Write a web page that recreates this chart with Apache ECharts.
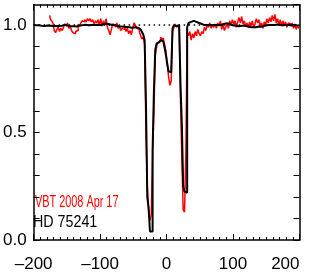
<!DOCTYPE html>
<html><head><meta charset="utf-8">
<script src="https://cdn.jsdelivr.net/npm/echarts@6/dist/echarts.min.js"></script>
<style>html,body{margin:0;padding:0;background:#fff}#c{width:311px;height:273px}</style>
</head><body><div id="c"></div>
<script>
// ---- data ----
const xTickValues = [-200, -100, 0, 100, 200];
const yTickLabels = ['0.0', '0.5', '1.0'];
const legendRed = 'VBT 2008 Apr 17';
const legendBlack = 'HD 75241';
const blackStartVel = -200, redStartVel = -176, velStep = 2;
// HD 75241 profile (black), velocity -200 .. 200 step 2
const fluxBlack = [
 1.000,1.000,0.999,0.998,0.999,0.998,0.997,0.998,0.996,0.997, // -200..-182
 0.998,0.996,0.995,0.997,0.996,0.995,0.996,0.994,0.995,0.996, // -180..-162
 0.995,0.997,0.999,1.002,1.003,1.001,0.998,0.996,0.995,0.994, // -160..-142
 0.995,0.996,0.994,0.995,0.997,0.998,0.999,1.000,1.001,1.002, // -140..-122
 1.000,0.999,1.000,1.002,1.001,1.000,1.001,1.003,1.002,1.000, // -120..-102
 0.999,1.001,1.003,1.004,1.005,1.006,1.005,1.004,1.003,1.001, // -100..-82
 1.000,0.999,0.997,0.996,0.995,0.994,0.993,0.993,0.992,0.992, // -80..-62
 0.991,0.990,0.990,0.989,0.988,0.988,0.990,0.995,0.988,0.985, // -60..-42
 0.980,0.975,0.968,0.955,0.930,0.640,0.200,0.150,0.040,0.040, // -40..-22
 0.420,0.700,0.885,0.915,0.920,0.925,0.930,0.925,0.920,0.895, // -20..-2
 0.860,0.820,0.785,0.780,0.790,0.985,1.000,0.995,1.000,1.000, // 0..18
 0.990,0.720,0.540,0.250,0.225,0.220,0.990,1.010,1.015,1.020, // 20..38
 1.020,1.018,1.015,1.012,1.010,1.008,1.005,1.003,1.002,1.000, // 40..58
 1.000,0.999,1.000,1.001,1.000,0.999,1.000,1.001,1.000,0.999, // 60..78
 1.000,1.002,1.004,1.006,1.008,1.010,1.010,1.008,1.005,1.002, // 80..98
 1.000,0.998,0.997,0.996,0.995,0.996,0.997,0.998,0.997,0.996, // 100..118
 0.995,0.993,0.992,0.991,0.990,0.990,0.991,0.990,0.991,0.992, // 120..138
 0.991,0.992,0.994,0.996,0.998,0.999,1.000,1.001,1.002,1.001, // 140..158
 1.000,1.001,1.002,1.003,1.002,1.001,1.000,0.999,1.000,1.001, // 160..178
 1.002,1.001,1.000,0.999,1.000,1.002,1.001,1.000,0.999,1.000, // 180..198
 0.998                                                        // 200
];
// VBT 2008 Apr 17 profile (red), velocity -176 .. 200 step 2
const fluxRed = [
 1.045,1.030,1.020,1.010,0.975,0.965,0.980,0.990,0.970,0.985, // -176..-158
 0.975,0.990,1.005,0.995,1.010,0.985,0.995,0.975,0.965,0.960, // -156..-138
 0.970,0.975,1.005,0.995,1.010,1.020,1.015,1.025,1.015,1.030, // -136..-118
 1.020,1.030,1.015,1.025,1.005,1.020,1.010,1.025,1.000,1.030, // -116..-98
 0.995,1.020,1.000,1.030,0.990,0.975,0.955,0.980,1.005,1.000, // -96..-78
 0.990,1.010,0.985,0.995,0.975,0.985,0.980,0.990,0.970,0.985, // -76..-58
 0.960,0.975,0.955,0.985,1.010,1.000,0.985,0.980,0.970,0.950, // -56..-38
 0.935,0.945,0.910,0.500,0.250,0.130,0.090,0.120,0.400,0.600, // -36..-18
 0.860,0.900,0.920,0.925,0.945,0.930,0.940,0.910,0.880,0.820, // -16..2
 0.760,0.720,0.740,0.970,0.990,1.005,0.990,1.000,0.985,0.650, // 4..22
 0.380,0.140,0.130,0.400,0.970,0.950,0.970,0.930,0.960,0.940, // 24..42
 0.970,0.950,0.980,0.960,0.950,0.970,0.960,0.990,0.975,1.000, // 44..62
 0.990,1.010,0.985,1.000,0.990,1.005,0.985,1.010,0.995,1.020, // 64..82
 0.980,1.005,0.975,0.990,1.010,0.985,1.020,1.000,1.025,1.005, // 84..102
 1.020,0.990,1.015,1.035,1.010,1.040,1.005,1.020,0.995,1.010, // 104..122
 0.990,1.015,0.995,1.020,0.990,1.005,1.030,1.010,1.025,0.995, // 124..142
 1.010,0.985,1.015,1.000,1.030,1.010,1.035,1.015,1.045,1.020, // 144..162
 1.050,1.010,1.030,1.000,1.025,0.995,1.020,1.000,1.015,0.990, // 164..182
 1.010,1.005,0.995,1.010,0.985,1.005,0.980,0.995,0.985         // 184..200
];

// ---- build ----
const blackData = fluxBlack.map((f, i) => [blackStartVel + i * velStep, f]);
const redData = fluxRed.map((f, i) => [redStartVel + i * velStep, f]);

const FONT = 'Liberation Sans, Arial, Helvetica, sans-serif';
const chart = echarts.init(document.getElementById('c'), null, {renderer: 'canvas'});

function xAxisDef(pos, showLabel) {
  return {
    type: 'value', position: pos, min: xTickValues[0], max: xTickValues[xTickValues.length - 1],
    interval: xTickValues[1] - xTickValues[0],
    axisLine: {show: true, onZero: false, lineStyle: {color: '#000', width: 1.5}},
    axisTick: {show: true, inside: true, length: 6, lineStyle: {color: '#000', width: 1}},
    minorTick: {show: true, splitNumber: 10, length: 3, lineStyle: {color: '#000', width: 1}},
    splitLine: {show: false}, minorSplitLine: {show: false},
    axisLabel: {show: showLabel, color: '#000', fontSize: 17, fontFamily: FONT, margin: 16,
      alignMaxLabel: 'right',
      formatter: v => xTickValues.includes(v) ? String(v).replace('-', '\u2013') : ''}
  };
}
function yAxisDef(pos, showLabel) {
  return {
    type: 'value', position: pos, min: 0, max: 1.095, interval: 0.1,
    axisLine: {show: true, onZero: false, lineStyle: {color: '#000', width: 1.5}},
    axisTick: {show: true, inside: true, length: 6, lineStyle: {color: '#000', width: 1}},
    splitLine: {show: false},
    axisLabel: {show: showLabel, color: '#000', fontSize: 17, fontFamily: FONT, margin: 7,
      showMaxLabel: false,
      formatter: v => { const s = v.toFixed(1); return yTickLabels.includes(s) && Math.abs(v - parseFloat(s)) < 1e-6 ? s : ''; }}
  };
}

chart.setOption({
  animation: false,
  backgroundColor: '#fff',
  grid: {left: 28, right: 11.5, top: 4.7, bottom: 33, containLabel: false},
  xAxis: [xAxisDef('bottom', true), xAxisDef('top', false)],
  yAxis: [yAxisDef('left', true), yAxisDef('right', false)],
  series: [
    {type: 'line', data: [[xTickValues[0], 1], [xTickValues[xTickValues.length - 1], 1]], symbol: 'none', silent: true,
      lineStyle: {color: '#000', width: 1.5, type: [1.5, 3.5]}},
    {type: 'line', name: legendRed, data: redData, step: 'middle', symbol: 'none',
      lineStyle: {color: '#ff0000', width: 1.5}},
    {type: 'line', name: legendBlack, data: blackData, step: 'middle', symbol: 'none',
      lineStyle: {color: '#000', width: 2}}
  ],
  graphic: [
    {type: 'text', x: 35, y: 195, scaleX: 0.68, silent: true,
      style: {text: legendRed, fill: '#ff0000', font: '16px ' + FONT, verticalAlign: 'top', align: 'left'}},
    {type: 'text', x: 33, y: 214, scaleX: 0.84, silent: true,
      style: {text: legendBlack, fill: '#000', font: '17px ' + FONT, verticalAlign: 'top', align: 'left'}}
  ]
});
</script></body></html>
